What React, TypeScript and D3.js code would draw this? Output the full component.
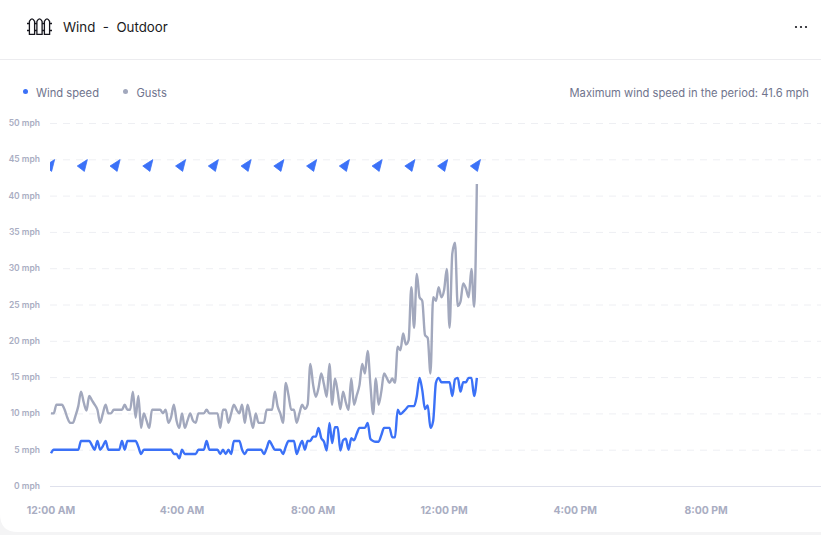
import React, { useEffect, useRef } from 'react';
import * as d3 from 'd3';

// one reading every 5 minutes from midnight
const windSpeed = [
  4.5, 5, 5, 5, 5, 5, 5, 5, 5, 5,
  5, 6.2, 6.2, 6.2, 6.2, 5.6, 5, 6.2, 5, 5.5,
  6.2, 5, 5, 5, 5, 5, 6.2, 5, 6.2, 6.2,
  6.2, 6.2, 5.4, 4.4, 5, 5, 5, 5, 5, 5,
  5, 5, 5, 5, 5, 4.4, 4.4, 3.8, 5, 4.4,
  4.4, 4.4, 4.4, 4.4, 5, 5, 5, 6.2, 5, 5,
  5, 5, 4.4, 5, 4.4, 5, 4.4, 6.2, 6.2, 6.2,
  5, 4.4, 5, 5, 5, 5, 5, 5, 4.4, 5.2,
  6.2, 5.6, 5, 5, 5, 4.4, 5.4, 6.2, 6.2, 6.2,
  4.4, 5.4, 6.2, 5, 6.2, 6.2, 6.8, 6.8, 8, 6.6,
  6.1, 4.9, 8.7, 5.9, 8.1, 8.1, 4.9, 6.3, 6.5, 5,
  6.6, 6.3, 7.2, 8, 8, 8, 8.7, 6.5, 6.2, 6.1,
  6.1, 7, 8, 8, 8, 6.7, 6.7, 10.5, 9.9, 10.2,
  10.6, 11, 11, 11, 12.4, 14.9, 13.2, 10.6, 11.1, 8,
  9, 14.2, 14.9, 14.3, 14.3, 14.3, 14.3, 12.4, 14.7, 14.9,
  13, 14.3, 14.3, 14.9, 14.9, 12.4, 14.9,
];

const gusts = [
  10, 10, 11.2, 11.2, 11.2, 10.5, 9.4, 8.7, 8.7, 9.7,
  11, 13, 11.5, 10.4, 12.4, 11.8, 11.2, 10.5, 8.7, 10,
  11.2, 10, 10, 10.5, 10.5, 10.5, 10.5, 11.2, 10.5, 10.5,
  13, 9.4, 12.4, 8, 10, 9, 8, 10.5, 10.5, 10.5,
  10.5, 10, 10.5, 8.7, 9.5, 11.2, 9, 8, 10, 8,
  9, 10, 9, 8.7, 10, 10, 10, 10.5, 10, 10,
  10, 10, 8, 10.5, 10.5, 8.7, 10, 11.2, 10.5, 10,
  11.2, 8.7, 11.2, 9.6, 8, 10, 8.7, 8.7, 8.7, 10.5,
  10.5, 10.5, 13, 11, 10, 8.7, 14.2, 12.5, 10.5, 10.5,
  8.7, 10, 11.2, 10.6, 11.2, 16.8, 14, 12.3, 13.5, 15.5,
  14, 12.3, 16.8, 11.2, 14.8, 13, 10.6, 13, 11.5, 10.5,
  14.8, 11.2, 12.5, 13.9, 16.8, 15.5, 18.6, 14, 9.9, 14.8,
  11.2, 13, 15.5, 14.9, 14.2, 14.8, 14.2, 19.2, 18.7, 21,
  19.5, 20.1, 27.4, 21.8, 29.2, 26, 25.5, 20.8, 20.4, 15.5,
  26, 25.5, 27.4, 26, 27, 29.9, 21.8, 32, 33.5, 24.8,
  25.4, 27.9, 27.2, 26, 29.9, 24.7, 41.6,
];

// hourly wind direction in degrees, the arrow glyph points west at 270
const directionHours = [0, 1, 2, 3, 4, 5, 6, 7, 8, 9, 10, 11, 12, 13];
const directions = [270, 270, 270, 270, 270, 270, 270, 270, 270, 270, 270, 270, 270, 270];

const yTicks = [0, 5, 10, 15, 20, 25, 30, 35, 40, 45, 50];
const xTicks = [0, 4, 8, 12, 16, 20];
const xLabels = ['12:00 AM', '4:00 AM', '8:00 AM', '12:00 PM', '4:00 PM', '8:00 PM'];

const width = 821;
const height = 535;
const FONT = 'Inter, "Noto Sans", sans-serif';

export default function App() {
  const ref = useRef<SVGSVGElement>(null);

  useEffect(() => {
    const svg = d3.select(ref.current);
    svg.selectAll('*').remove();

    const x = d3.scaleLinear().domain([0, 24]).range([51, 837.2]);
    const y = d3.scaleLinear().domain([0, 50]).range([486, 123]);

    // page background and card
    svg.append('rect').attr('width', width).attr('height', height).attr('fill', '#f4f4f5');
    svg.append('path')
      .attr('d', 'M0,0H821V532H18Q0,532 0,514Z')
      .attr('fill', '#ffffff');
    svg.append('line')
      .attr('x1', 0).attr('x2', width).attr('y1', 59.5).attr('y2', 59.5)
      .attr('stroke', '#ececef');

    // header icon: three pickets with rail stubs
    const icon = svg.append('g')
      .attr('transform', 'translate(27,18)')
      .attr('fill', 'none')
      .attr('stroke', '#16161d')
      .attr('stroke-width', 1.3);
    [5, 12.5, 20].forEach(px => {
      icon.append('path').attr('d', `M${px - 2.6},16.4V3.4Q${px},-1.6 ${px + 2.6},3.4V16.4Z`);
    });
    icon.append('path').attr('d', 'M0,5.5H2.4M7.6,5.5H9.9M15.1,5.5H17.4M22.6,5.5H25M0,12.5H2.4M7.6,12.5H9.9M15.1,12.5H17.4M22.6,12.5H25');

    svg.append('text')
      .attr('x', 63).attr('y', 32)
      .attr('font-family', FONT).attr('font-size', 13.3)
      .attr('fill', '#1b1b22')
      .style('white-space', 'pre')
      .text('Wind  -  Outdoor');

    [796, 801, 806].forEach(cx => {
      svg.append('circle').attr('cx', cx).attr('cy', 27).attr('r', 1.1).attr('fill', '#16161d');
    });

    // legend
    const legend = [
      { label: 'Wind speed', color: '#3b71f7', cx: 25.5, tx: 36 },
      { label: 'Gusts', color: '#a2a8bd', cx: 125.5, tx: 136.5 },
    ];
    legend.forEach(d => {
      svg.append('circle').attr('cx', d.cx).attr('cy', 91.5).attr('r', 2.5).attr('fill', d.color);
      svg.append('text')
        .attr('x', d.tx).attr('y', 97)
        .attr('font-family', FONT).attr('font-size', 11.2)
        .attr('fill', '#6f748d')
        .text(d.label);
    });
    svg.append('text')
      .attr('x', 809).attr('y', 97)
      .attr('text-anchor', 'end')
      .attr('font-family', FONT).attr('font-size', 11.2)
      .attr('fill', '#6f748d')
      .text('Maximum wind speed in the period: 41.6 mph');

    // y axis grid + labels
    const yAxis = svg.append('g');
    yTicks.forEach(t => {
      yAxis.append('line')
        .attr('x1', 50).attr('x2', width)
        .attr('y1', y(t) + 0.5).attr('y2', y(t) + 0.5)
        .attr('stroke', t === 0 ? '#dfe1ec' : '#eeeff3')
        .attr('stroke-dasharray', t === 0 ? null : '7 6');
      yAxis.append('text')
        .attr('x', 40).attr('y', y(t) + 3)
        .attr('text-anchor', 'end')
        .attr('font-family', FONT).attr('font-size', 8.5)
        .attr('font-weight', 600)
        .attr('fill', '#a9adc2')
        .text(`${t} mph`);
    });

    // x axis labels
    xTicks.forEach((t, i) => {
      svg.append('text')
        .attr('x', x(t)).attr('y', 514)
        .attr('text-anchor', 'middle')
        .attr('font-family', FONT).attr('font-size', 10.4)
        .attr('font-weight', 700)
        .attr('fill', '#a9adc2')
        .text(xLabels[i]);
    });

    // series
    const line = d3.line<number>()
      .x((_, i) => x((i * 5) / 60))
      .y(d => y(d))
      .curve(d3.curveMonotoneX);

    svg.append('path')
      .attr('d', line(gusts))
      .attr('fill', 'none')
      .attr('stroke', '#a2a8bd')
      .attr('stroke-width', 2.4)
      .attr('stroke-linejoin', 'round');
    svg.append('path')
      .attr('d', line(windSpeed))
      .attr('fill', 'none')
      .attr('stroke', '#3b71f7')
      .attr('stroke-width', 2.4)
      .attr('stroke-linejoin', 'round');

    // direction arrows, clipped at plot's left edge
    svg.append('clipPath').attr('id', 'plot-clip')
      .append('rect').attr('x', 50).attr('y', 110).attr('width', 771).attr('height', 380);
    const arrows = svg.append('g').attr('clip-path', 'url(#plot-clip)');
    directionHours.forEach((h, i) => {
      arrows.append('path')
        .attr('d', 'M-6.5,1L3.6,-5.4L0.6,6.4Z')
        .attr('transform', `translate(${x(h)},165) rotate(${directions[i] - 270})`)
        .attr('fill', '#3b71f7')
        .attr('stroke', '#3b71f7')
        .attr('stroke-width', 0.8)
        .attr('stroke-linejoin', 'round');
    });
  }, []);

  return (
    <svg
      ref={ref}
      width={width}
      height={height}
      style={{ position: 'fixed', left: 0, top: 0, display: 'block' }}
    />
  );
}
